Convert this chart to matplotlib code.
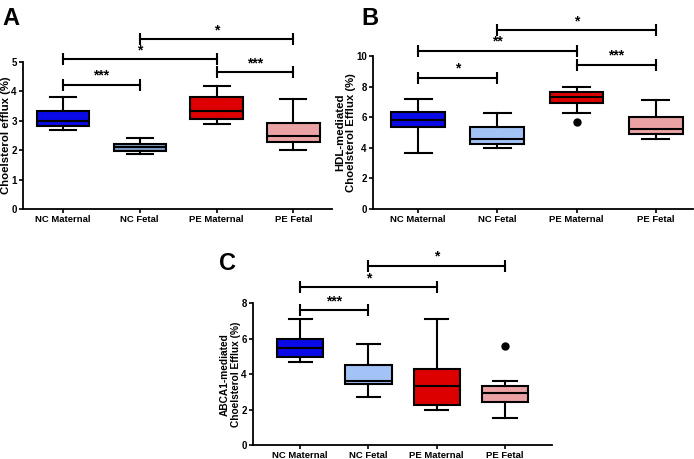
import matplotlib
matplotlib.use('Agg')
import matplotlib.pyplot as plt

plt.rcParams['font.family'] = ['Liberation Sans', 'DejaVu Sans']

groups = ['NC Maternal', 'NC Fetal', 'PE Maternal', 'PE Fetal']

# panel A: cholesterol efflux (%)
a_whislo = [2.70, 1.88, 2.90, 2.00]
a_q1 = [2.82, 1.98, 3.06, 2.29]
a_med = [3.00, 2.12, 3.33, 2.50]
a_q3 = [3.33, 2.21, 3.81, 2.91]
a_whishi = [3.80, 2.41, 4.20, 3.73]
a_fliers = [[], [], [], []]
a_colors = ['#0a0ae6', '#7f9cc6', '#dd0000', '#eaa2a4']
a_sig = [(0, 1, 4.22, '***'), (0, 2, 5.10, '*'), (1, 3, 5.78, '*'), (2, 3, 4.66, '***')]

# panel B: HDL-mediated
b_whislo = [3.68, 3.97, 6.30, 4.60]
b_q1 = [5.34, 4.23, 6.95, 4.89]
b_med = [5.80, 4.60, 7.35, 5.26]
b_q3 = [6.34, 5.34, 7.65, 6.00]
b_whishi = [7.19, 6.27, 8.00, 7.12]
b_fliers = [[], [], [5.67], []]
b_colors = ['#0a0ae6', '#a3c2f5', '#dd0000', '#eaa2a4']
b_sig = [(0, 1, 8.6, '*'), (0, 2, 10.35, '**'), (1, 3, 11.7, '*'), (2, 3, 9.45, '***')]

# panel C: ABCA1-mediated
c_whislo = [4.68, 2.68, 1.99, 1.50]
c_q1 = [4.94, 3.43, 2.27, 2.43]
c_med = [5.45, 3.60, 3.33, 2.92]
c_q3 = [5.99, 4.53, 4.29, 3.33]
c_whishi = [7.11, 5.71, 7.11, 3.60]
c_fliers = [[], [], [], [5.60]]
c_colors = ['#0a0ae6', '#a3c2f5', '#dd0000', '#eaa2a4']
c_sig = [(0, 1, 7.6, '***'), (0, 2, 8.9, '*'), (1, 3, 10.1, '*')]


def draw_panel(ax, whislo, q1, med, q3, whishi, fliers, colors, sig, ymax, yticks,
               ylabel, ylab_size, ylab_x, xlim):
    stats = []
    for i in range(4):
        stats.append({'whislo': whislo[i], 'q1': q1[i], 'med': med[i], 'q3': q3[i],
                      'whishi': whishi[i], 'fliers': fliers[i]})
    bp = ax.bxp(stats, positions=range(4), widths=0.68, capwidths=0.34, patch_artist=True,
                boxprops=dict(linewidth=1.5, edgecolor='black'),
                medianprops=dict(color='black', linewidth=1.5),
                whiskerprops=dict(linewidth=1.5), capprops=dict(linewidth=1.5),
                flierprops=dict(marker='o', markerfacecolor='black', markeredgecolor='black', markersize=5))
    for patch, c in zip(bp['boxes'], colors):
        patch.set_facecolor(c)
    ax.set_ylim(0, ymax)
    ax.set_xlim(*xlim)
    ax.set_yticks(yticks)
    ax.set_xticks(range(4))
    ax.set_xticklabels(groups, fontsize=6.8, fontweight='bold')
    ax.tick_params(axis='y', labelsize=7, width=1.2, length=3, pad=1.5)
    ax.tick_params(axis='x', width=1.2, length=3, pad=1)
    for lab in ax.get_yticklabels():
        lab.set_fontweight('bold')
    ax.spines['top'].set_visible(False)
    ax.spines['right'].set_visible(False)
    ax.spines['left'].set_linewidth(1.3)
    ax.spines['bottom'].set_linewidth(1.3)
    ax.set_ylabel(ylabel, fontsize=ylab_size, fontweight='bold')
    ax.yaxis.set_label_coords(ylab_x, 0.5)
    for x0, x1, y, s in sig:
        ax.plot([x0, x1], [y, y], color='black', linewidth=1.5, clip_on=False)
        ax.plot([x0, x1], [y, y], linestyle='none', marker='|', markersize=9,
                markeredgewidth=1.5, color='black', clip_on=False)
        ax.annotate(s, xy=((x0 + x1) / 2, y), xytext=(0, 1.5), textcoords='offset points',
                    ha='center', va='bottom', fontsize=10, fontweight='bold', annotation_clip=False)


fig = plt.figure(figsize=(6.94, 4.59), dpi=100)

ax1 = fig.add_axes([0.0331, 0.5447, 0.445, 0.320])
draw_panel(ax1, a_whislo, a_q1, a_med, a_q3, a_whishi, a_fliers, a_colors, a_sig,
           5, [0, 1, 2, 3, 4, 5], 'Choelsterol efflux (%)', 8.2, -0.040, (-0.52, 3.5))

ax2 = fig.add_axes([0.5375, 0.5447, 0.461, 0.333])
draw_panel(ax2, b_whislo, b_q1, b_med, b_q3, b_whishi, b_fliers, b_colors, b_sig,
           10, [0, 2, 4, 6, 8, 10], 'HDL-mediated\nChoelsterol Efflux (%)', 8.2, -0.052, (-0.57, 3.47))

ax3 = fig.add_axes([0.3646, 0.0305, 0.431, 0.309])
draw_panel(ax3, c_whislo, c_q1, c_med, c_q3, c_whishi, c_fliers, c_colors, c_sig,
           8, [0, 2, 4, 6, 8], 'ABCA1-mediated\nChoelsterol Efflux (%)', 7.3, -0.040, (-0.69, 3.69))

fig.text(0.003, 0.985, 'A', fontsize=17, fontweight='bold', va='top')
fig.text(0.520, 0.985, 'B', fontsize=17, fontweight='bold', va='top')
fig.text(0.315, 0.452, 'C', fontsize=17, fontweight='bold', va='top')

fig.savefig('out.png', dpi=100)
